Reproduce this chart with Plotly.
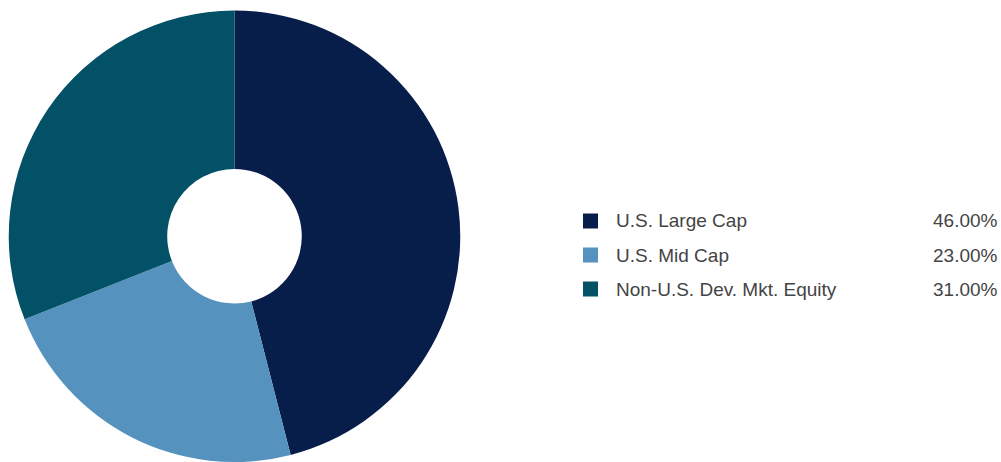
import plotly.graph_objects as go

categories = ["U.S. Large Cap", "U.S. Mid Cap", "Non-U.S. Dev. Mkt. Equity"]
values = [46.00, 23.00, 31.00]
colors = ["#081E4A", "#5593BE", "#025166"]

W, H = 1001, 462
FONT = "Liberation Sans, Arial, sans-serif"

fig = go.Figure()
fig.add_trace(go.Pie(
    labels=categories,
    values=values,
    marker=dict(colors=colors, line=dict(color="#FFFFFF", width=0)),
    hole=0.298,
    sort=False,
    direction="clockwise",
    rotation=0,
    textinfo="none",
    hoverinfo="label+percent",
    showlegend=False,
    domain=dict(x=[8 / W, 461 / W], y=[0.0, 1 - 10.5 / H]),
))

row_y = [221, 255, 289]
shapes = []
annotations = []
for i, (cat, val, col) in enumerate(zip(categories, values, colors)):
    yc = row_y[i]
    shapes.append(dict(
        type="rect", xref="paper", yref="paper",
        x0=583 / W, x1=598 / W,
        y0=1 - (yc + 7.5) / H, y1=1 - (yc - 7.5) / H,
        fillcolor=col, line=dict(width=0),
    ))
    annotations.append(dict(
        x=614 / W, y=1 - yc / H, xref="paper", yref="paper",
        text=cat, showarrow=False, xanchor="left", yanchor="middle",
        font=dict(family=FONT, size=19, color="#444444"),
    ))
    annotations.append(dict(
        x=1000 / W, y=1 - yc / H, xref="paper", yref="paper",
        text=f"{val:.2f}%", showarrow=False, xanchor="right", yanchor="middle",
        font=dict(family=FONT, size=19, color="#444444"),
    ))

fig.update_layout(
    width=W, height=H,
    margin=dict(l=0, r=0, t=0, b=0),
    paper_bgcolor="#FFFFFF",
    plot_bgcolor="#FFFFFF",
    shapes=shapes,
    annotations=annotations,
)

fig.write_html(
    "out.html",
    config={"displayModeBar": False},
    post_script="document.body.style.margin='0';document.body.style.overflow='hidden';",
)
